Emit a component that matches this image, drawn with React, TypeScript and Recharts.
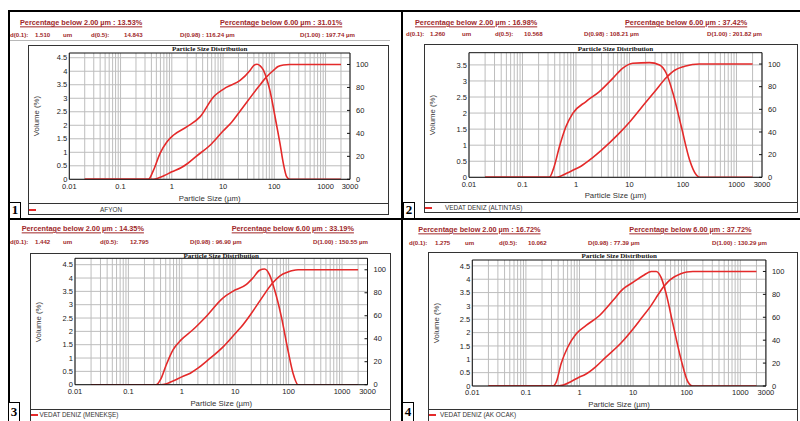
import React from 'react';
import { LineChart, Line, XAxis, YAxis, CartesianGrid, ReferenceLine } from 'recharts';

// shared axes
const xTicks = [0.01, 0.1, 1, 10, 100, 1000, 3000];
const rightTicks = [0, 20, 40, 60, 80, 100];
const ticks45 = [0, 0.5, 1, 1.5, 2, 2.5, 3, 3.5, 4, 4.5];
const ticks35 = [0, 0.5, 1, 1.5, 2, 2.5, 3, 3.5];
const gridX = [
  0.01, 0.02, 0.03, 0.04, 0.05, 0.06, 0.07, 0.08, 0.09,
  0.1, 0.2, 0.3, 0.4, 0.5, 0.6, 0.7, 0.8, 0.9,
  1, 2, 3, 4, 5, 6, 7, 8, 9,
  10, 20, 30, 40, 50, 60, 70, 80, 90,
  100, 200, 300, 400, 500, 600, 700, 800, 900,
  1000, 2000, 3000,
];

// 1 - AFYON
const p1VolSize = [0.02, 0.35, 0.44, 0.59, 0.8, 1.07, 1.95, 3.55, 6.45, 11.8, 21.5, 33.6, 40, 46, 53, 61, 71, 82, 95.5, 111, 129, 150, 174, 202, 2000];
const p1Vol = [0, 0, 0.34, 0.96, 1.38, 1.63, 1.94, 2.31, 3.04, 3.41, 3.66, 4.03, 4.22, 4.26, 4.2, 4.05, 3.72, 3.29, 2.67, 2.0, 1.33, 0.59, 0.1, 0, 0];
const p1CumSize = [0.02, 0.4, 0.5, 0.7, 1, 1.51, 2, 3, 6, 10, 14.84, 20, 30, 50, 70, 100, 116, 150, 198, 2000];
const p1Cum = [0, 0, 0.5, 3, 6.5, 10, 13.53, 20, 31.01, 42, 50, 57.5, 68, 81, 89, 95.5, 98, 99.6, 100, 100];

// 2 - ALTINTAS
const p2VolSize = [0.02, 0.316, 0.39, 0.49, 0.65, 0.87, 1.54, 2.74, 4.87, 7.5, 11.5, 23.7, 36.5, 48.7, 65, 93, 133, 178, 205, 2000];
const p2Vol = [0, 0, 0.33, 0.95, 1.58, 1.99, 2.36, 2.67, 3.08, 3.4, 3.55, 3.57, 3.5, 3.24, 2.62, 1.58, 0.54, 0.07, 0, 0];
const p2CumSize = [0.02, 0.4, 0.5, 0.7, 1, 1.26, 2, 3, 6, 10.57, 20, 30, 50, 70, 100, 108, 150, 202, 2000];
const p2Cum = [0, 0, 0.8, 4, 7.5, 10, 16.98, 24, 37.42, 50, 66, 76, 88.5, 94.5, 97.6, 98, 99.6, 100, 100];

// 3 - MENEKSE
const p3VolSize = [0.02, 0.33, 0.41, 0.51, 0.68, 0.97, 1.61, 2.86, 5.87, 9, 16, 21.4, 28.6, 35.5, 44, 54.6, 72.9, 97, 121, 150, 2000];
const p3Vol = [0, 0, 0.24, 0.74, 1.3, 1.68, 2.06, 2.56, 3.25, 3.5, 3.75, 4.0, 4.29, 4.34, 4.12, 3.56, 2.56, 1.3, 0.43, 0, 0];
const p3CumSize = [0.02, 0.4, 0.5, 0.7, 1, 1.442, 2, 3, 6, 10, 12.795, 20, 30, 50, 70, 96.9, 120, 150.55, 2000];
const p3Cum = [0, 0, 0.6, 3.5, 6.8, 10, 14.35, 21, 33.19, 44.5, 50, 62, 74, 88.5, 95, 98, 99.4, 100, 100];

// 4 - AK OCAK
const p4VolSize = [0.02, 0.32, 0.37, 0.455, 0.605, 0.87, 1.33, 2.36, 4.19, 6.44, 9.9, 15.2, 21.8, 27, 33.4, 41.4, 55.2, 79, 105, 130, 2000];
const p4Vol = [0, 0, 0.16, 0.84, 1.46, 1.96, 2.27, 2.64, 3.2, 3.63, 3.88, 4.13, 4.29, 4.29, 4.06, 3.45, 2.33, 0.97, 0.16, 0, 0];
const p4CumSize = [0.02, 0.35, 0.5, 0.7, 1, 1.275, 2, 3, 6, 10.062, 15, 20, 30, 36, 40, 50, 77.39, 100, 130.29, 2000];
const p4Cum = [0, 0, 0.9, 4, 7.8, 10, 16.72, 24.5, 37.72, 50, 60.5, 68, 80.5, 86, 88.5, 93, 98, 99.5, 100, 100];

const RED = '#e42a2a';
const DARKRED = '#a0282a';
const SANS = '"Liberation Sans", Arial, sans-serif';
const SERIF = '"Liberation Serif", "Times New Roman", serif';

const pts = (s: number[], v: number[]) => s.map((x, i) => ({ s: x, v: v[i] }));

type Box = { x: number; y: number; w: number; h: number };
type Plot = { l: number; t: number; r: number; b: number };

function Txt(props: {
  x: number; y: number; children: React.ReactNode; size: number; color?: string;
  bold?: boolean; mid?: boolean; family?: string; underline?: boolean; rotate?: boolean;
}) {
  const { x, y, size, color = '#222', bold, mid, family = SANS, underline, rotate } = props;
  let tf = `translate(${mid ? '-50%' : '0'}, -50%)`;
  if (rotate) tf = 'translate(-50%, -50%) rotate(-90deg)';
  return (
    <div
      style={{
        position: 'absolute', left: x, top: y, transform: tf, whiteSpace: 'nowrap',
        fontSize: size, lineHeight: 1, color, fontFamily: family,
        fontWeight: bold ? 700 : 400, textDecoration: underline ? 'underline' : 'none',
      }}
    >
      {props.children}
    </div>
  );
}

function Rect(p: { x: number; y: number; w: number; h: number; c?: string }) {
  return <div style={{ position: 'absolute', left: p.x, top: p.y, width: p.w, height: p.h, background: p.c || '#000' }} />;
}

function PsdChart(props: {
  box: Box; plot: Plot; leftMax: number; leftTicks: number[];
  vol: { s: number; v: number }[]; cum: { s: number; v: number }[];
}) {
  const { box, plot, leftMax, leftTicks, vol, cum } = props;
  const tickStyle = { fontSize: 7.5, fill: '#222', fontFamily: SANS };
  return (
    <div style={{ position: 'absolute', left: box.x, top: box.y }}>
      <LineChart width={box.w} height={box.h} margin={{ top: plot.t - box.y, right: 0, bottom: 0, left: 0 }}>
        <CartesianGrid yAxisId="l" stroke="#bdbdbd" verticalValues={gridX} horizontalValues={leftTicks} />
        <XAxis
          dataKey="s" type="number" scale="log" domain={[0.01, 3000]} allowDataOverflow
          ticks={xTicks} interval={0} tickFormatter={(v: number) => String(v)}
          height={box.y + box.h - plot.b} tickLine={false} tickSize={0} tickMargin={4}
          axisLine={{ stroke: '#111' }} tick={tickStyle}
        />
        <YAxis
          yAxisId="l" orientation="left" width={plot.l - box.x} domain={[0, leftMax]} allowDataOverflow
          ticks={leftTicks} interval={0} tickFormatter={(v: number) => String(v)}
          tickLine={false} tickSize={0} tickMargin={2} axisLine={{ stroke: '#111' }} tick={tickStyle}
        />
        <YAxis
          yAxisId="r" orientation="right" width={box.x + box.w - plot.r} domain={[0, 110]} allowDataOverflow
          ticks={rightTicks} interval={0} tickSize={-3} tickMargin={9}
          tickLine={{ stroke: '#111' }} axisLine={{ stroke: '#111' }} tick={tickStyle}
        />
        <ReferenceLine yAxisId="l" y={leftMax} stroke="#111" />
        <Line yAxisId="l" data={vol} dataKey="v" type="monotone" stroke={RED} strokeWidth={1.6} dot={false} isAnimationActive={false} />
        <Line yAxisId="r" data={cum} dataKey="v" type="monotone" stroke={RED} strokeWidth={1.6} dot={false} isAnimationActive={false} />
      </LineChart>
    </div>
  );
}

type PanelDef = {
  box: Box; sep: number; boxBottom: number; plot: Plot; leftMax: number; leftTicks: number[];
  vol: { s: number; v: number }[]; cum: { s: number; v: number }[];
  titleY: number; volX: number; xLabelY: number; legendY: number; legendX: number; name: string;
  head1Y: number; head2Y: number; headA: string; headAX: number; headB: string; headBX: number;
  row: [string, number][];
};

function Panel({ d }: { d: PanelDef }) {
  const { box, plot } = d;
  const cx = (plot.l + plot.r) / 2;
  return (
    <>
      <Txt x={d.headAX} y={d.head1Y} size={7.3} color={DARKRED} bold underline>{d.headA}</Txt>
      <Txt x={d.headBX} y={d.head1Y} size={7.3} color={DARKRED} bold underline>{d.headB}</Txt>
      {d.row.map(([t, x], i) => (
        <Txt key={i} x={x} y={d.head2Y} size={6.1} color={DARKRED} bold>{t}</Txt>
      ))}
      <div style={{ position: 'absolute', left: box.x, top: box.y, width: box.w, height: d.boxBottom - box.y, border: '1px solid #333', boxSizing: 'border-box' }} />
      <Rect x={box.x} y={d.sep} w={box.w} h={1} c="#333" />
      <PsdChart box={{ x: box.x, y: box.y, w: box.w, h: d.sep - box.y }} plot={plot} leftMax={d.leftMax} leftTicks={d.leftTicks} vol={d.vol} cum={d.cum} />
      <Txt x={cx} y={d.titleY} size={7} bold mid family={SERIF} color="#111">Particle Size Distribution</Txt>
      <Txt x={d.volX} y={(plot.t + plot.b) / 2} size={7.8} rotate color="#333">Volume (%)</Txt>
      <Txt x={cx} y={d.xLabelY} size={7.8} mid color="#333">Particle Size (µm)</Txt>
      <Rect x={box.x + 1} y={d.legendY - 1} w={7} h={2} c={RED} />
      <Txt x={d.legendX} y={d.legendY} size={6.4} color="#333">{d.name}</Txt>
    </>
  );
}

const panels: PanelDef[] = [
  {
    box: { x: 28, y: 45, w: 361, h: 170 }, sep: 203, boxBottom: 215,
    plot: { l: 69.3, t: 53, r: 350, b: 179.3 }, leftMax: 4.675, leftTicks: ticks45,
    vol: pts(p1VolSize, p1Vol), cum: pts(p1CumSize, p1Cum),
    titleY: 49, volX: 37, xLabelY: 199, legendY: 209.5, legendX: 100, name: 'AFYON',
    head1Y: 23.3, head2Y: 35.3,
    headA: 'Percentage below 2.00 µm : 13.53%', headAX: 20,
    headB: 'Percentage below 6.00 µm : 31.01%', headBX: 220,
    row: [['d(0.1):', 10], ['1.510', 35], ['um', 63], ['d(0.5):', 91], ['14.843', 124], ['D(0.98) : 116.24 µm', 180], ['D(1.00) : 197.74 µm', 300]],
  },
  {
    box: { x: 424, y: 44, w: 374, h: 169 }, sep: 202, boxBottom: 213,
    plot: { l: 469, t: 52.7, r: 762, b: 177.3 }, leftMax: 3.88, leftTicks: ticks35,
    vol: pts(p2VolSize, p2Vol), cum: pts(p2CumSize, p2Cum),
    titleY: 49, volX: 433, xLabelY: 196, legendY: 207.7, legendX: 445, name: 'VEDAT DENIZ (ALTINTAS)',
    head1Y: 23, head2Y: 34.3,
    headA: 'Percentage below 2.00 µm : 16.98%', headAX: 415,
    headB: 'Percentage below 6.00 µm : 37.42%', headBX: 625,
    row: [['d(0.1):', 406], ['1.260', 430], ['um', 462], ['d(0.5):', 495], ['10.568', 524], ['D(0.98) : 108.21 µm', 584], ['D(1.00) : 201.82 µm', 707]],
  },
  {
    box: { x: 30, y: 253, w: 361, h: 172 }, sep: 408.5, boxBottom: 425,
    plot: { l: 75, t: 258.3, r: 367.5, b: 384.7 }, leftMax: 4.74, leftTicks: ticks45,
    vol: pts(p3VolSize, p3Vol), cum: pts(p3CumSize, p3Cum),
    titleY: 255.5, volX: 39.3, xLabelY: 404, legendY: 414.5, legendX: 39.5, name: 'VEDAT DENIZ (MENEKŞE)',
    head1Y: 229, head2Y: 241.7,
    headA: 'Percentage below 2.00 µm : 14.35%', headAX: 21.7,
    headB: 'Percentage below 6.00 µm : 33.19%', headBX: 231.7,
    row: [['d(0.1):', 10], ['1.442', 35], ['um', 63], ['d(0.5):', 100], ['12.795', 130], ['D(0.98) : 96.90 µm', 190], ['D(1.00) : 150.55 µm', 313]],
  },
  {
    box: { x: 428, y: 252, w: 370, h: 173 }, sep: 408.5, boxBottom: 425,
    plot: { l: 472.3, t: 260, r: 765.9, b: 386 }, leftMax: 4.72, leftTicks: ticks45,
    vol: pts(p4VolSize, p4Vol), cum: pts(p4CumSize, p4Cum),
    titleY: 256, volX: 437.3, xLabelY: 405, legendY: 415, legendX: 440, name: 'VEDAT DENIZ (AK OCAK)',
    head1Y: 230, head2Y: 242.7,
    headA: 'Percentage below 2.00 µm : 16.72%', headAX: 418.3,
    headB: 'Percentage below 6.00 µm : 37.72%', headBX: 629.3,
    row: [['d(0.1):', 409], ['1.275', 435], ['um', 465], ['d(0.5):', 499], ['10.062', 528], ['D(0.98) : 77.39 µm', 588], ['D(1.00) : 130.29 µm', 712]],
  },
];

function NumBox(p: { x: number; y: number; h: number; n: string }) {
  return (
    <div
      style={{
        position: 'absolute', left: p.x, top: p.y, width: 12, height: p.h, border: '1.5px solid #000',
        boxSizing: 'border-box', background: '#fff', fontFamily: SERIF, fontWeight: 700, fontSize: 13,
        lineHeight: `${p.h - 3}px`, textAlign: 'center', color: '#000',
      }}
    >
      {p.n}
    </div>
  );
}

export default function App() {
  return (
    <div style={{ position: 'absolute', left: 0, top: 0, width: 800, height: 421, background: '#fff', overflow: 'hidden' }}>
      <Rect x={8} y={40} w={382} h={1} c="#b8b8b8" />
      {panels.map((d, i) => <Panel key={i} d={d} />)}
      <Rect x={8} y={10} w={792} h={2} />
      <Rect x={8} y={10} w={2} h={411} />
      <Rect x={401} y={10} w={2} h={411} />
      <Rect x={8} y={218} w={792} h={2} />
      <NumBox x={9} y={202} h={17} n="1" />
      <NumBox x={403} y={202} h={17} n="2" />
      <NumBox x={8} y={402} h={20} n="3" />
      <NumBox x={402} y={402} h={20} n="4" />
    </div>
  );
}
